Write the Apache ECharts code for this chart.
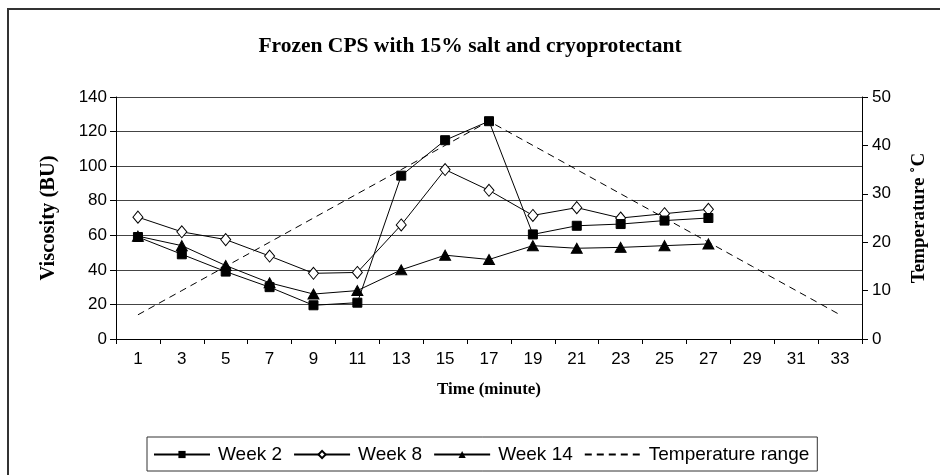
<!DOCTYPE html>
<html>
<head>
<meta charset="utf-8">
<script src="https://cdn.jsdelivr.net/npm/echarts@6/dist/echarts.min.js"></script>
<style>
  html, body { margin: 0; padding: 0; background: #fff; }
  #chart { width: 940px; height: 475px; }
</style>
</head>
<body>
<div id="chart"></div>
<script>
// time axis (minute)
var minutes = ["1", "3", "5", "7", "9", "11", "13", "15", "17", "19", "21", "23", "25", "27", "29", "31", "33"];
// viscosity (BU)
var week2 = [59, 49, 39, 30, 19.5, 21, 94.5, 115, 126, 60.5, 65.5, 66.5, 68.5, 70];
var week8 = [70.5, 62, 57.5, 48, 38, 38.5, 66, 98, 86, 71.5, 76, 70, 72.5, 75];
var week14 = [59.5, 54, 42.5, 32.5, 26, 28, 40, 48.5, 46, 54, 52.5, 53, 54, 55];
// temperature (°C)
var temperature = [5, 10, 15, 20, 25, 30, 35, 40, 45, 40, 35, 30, 25, 20, 15, 10, 5];

var serif = "'Liberation Serif', 'Times New Roman', serif";
var sans = "'Liberation Sans', Arial, sans-serif";

var chart = echarts.init(document.getElementById("chart"));

var option = {
  backgroundColor: "#fff",
  animation: false,
  title: {
    text: "Frozen CPS with 15% salt and cryoprotectant",
    left: "center",
    top: 30,
    textStyle: { fontFamily: serif, fontWeight: "bold", fontSize: 21.5, color: "#000" }
  },
  graphic: [
    {
      // chart frame, only the top and left edges fall inside the picture
      type: "polyline",
      shape: { points: [[8, 480], [8, 9], [945, 9]] },
      style: { fill: null, stroke: "#333", lineWidth: 2 },
      silent: true
    }
  ],
  grid: { left: 116, right: 78, top: 97, bottom: 136 },
  legend: {
    left: 147,
    top: 437,
    padding: [8, 8, 7, 6],
    itemGap: 11,
    itemWidth: 56,
    itemHeight: 9,
    borderColor: "#333",
    borderWidth: 1,
    data: [
      "Week 2",
      "Week 8",
      "Week 14",
      { name: "Temperature range", itemStyle: { opacity: 0 } }
    ],
    textStyle: { fontFamily: sans, fontSize: 19, color: "#000", padding: [0, 0, 0, 3] }
  },
  xAxis: {
    type: "category",
    data: minutes,
    boundaryGap: true,
    name: "Time (minute)",
    nameLocation: "middle",
    nameGap: 42,
    nameTextStyle: { fontFamily: serif, fontWeight: "bold", fontSize: 17, color: "#000" },
    axisLine: { lineStyle: { color: "#000", width: 1 } },
    axisTick: { show: true, alignWithLabel: false, length: 5, lineStyle: { color: "#000" } },
    axisLabel: { fontFamily: sans, fontSize: 17, color: "#000", margin: 12, interval: 0 }
  },
  yAxis: [
    {
      type: "value",
      min: 0,
      max: 140,
      interval: 20,
      name: "Viscosity (BU)",
      nameLocation: "middle",
      nameGap: 57,
      nameTextStyle: { fontFamily: serif, fontWeight: "bold", fontSize: 20.5, color: "#000" },
      axisLine: { show: true, lineStyle: { color: "#000", width: 1 } },
      axisTick: { show: true, length: 6, lineStyle: { color: "#000" } },
      axisLabel: { fontFamily: sans, fontSize: 17, color: "#000", margin: 9 },
      splitLine: { show: true, lineStyle: { color: "#444", width: 1 } }
    },
    {
      type: "value",
      min: 0,
      max: 50,
      interval: 10,
      name: "Temperature ˚C",
      nameLocation: "middle",
      nameGap: 48,
      nameRotate: 90,
      nameTextStyle: { fontFamily: serif, fontWeight: "bold", fontSize: 19, color: "#000" },
      axisLine: { show: true, lineStyle: { color: "#000", width: 1 } },
      axisTick: { show: true, length: 6, lineStyle: { color: "#000" } },
      axisLabel: { fontFamily: sans, fontSize: 17, color: "#000", margin: 10 },
      splitLine: { show: false }
    }
  ],
  series: [
    {
      name: "Week 2",
      type: "line",
      data: week2,
      z: 4,
      symbol: "rect",
      symbolSize: 9,
      itemStyle: { color: "#000", borderColor: "#000" },
      lineStyle: { color: "#000", width: 1 }
    },
    {
      name: "Week 8",
      type: "line",
      data: week8,
      z: 3,
      symbol: "diamond",
      symbolSize: [10, 12],
      itemStyle: { color: "#fff", borderColor: "#000", borderWidth: 1 },
      lineStyle: { color: "#000", width: 1 }
    },
    {
      name: "Week 14",
      type: "line",
      data: week14,
      z: 2,
      symbol: "triangle",
      symbolSize: [11, 10],
      itemStyle: { color: "#000", borderColor: "#000" },
      lineStyle: { color: "#000", width: 1 }
    },
    {
      name: "Temperature range",
      type: "line",
      yAxisIndex: 1,
      data: temperature,
      z: 1,
      symbol: "none",
      itemStyle: { color: "#000" },
      lineStyle: { color: "#000", width: 1, type: [7, 5] }
    }
  ]
};

chart.setOption(option);
</script>
</body>
</html>
